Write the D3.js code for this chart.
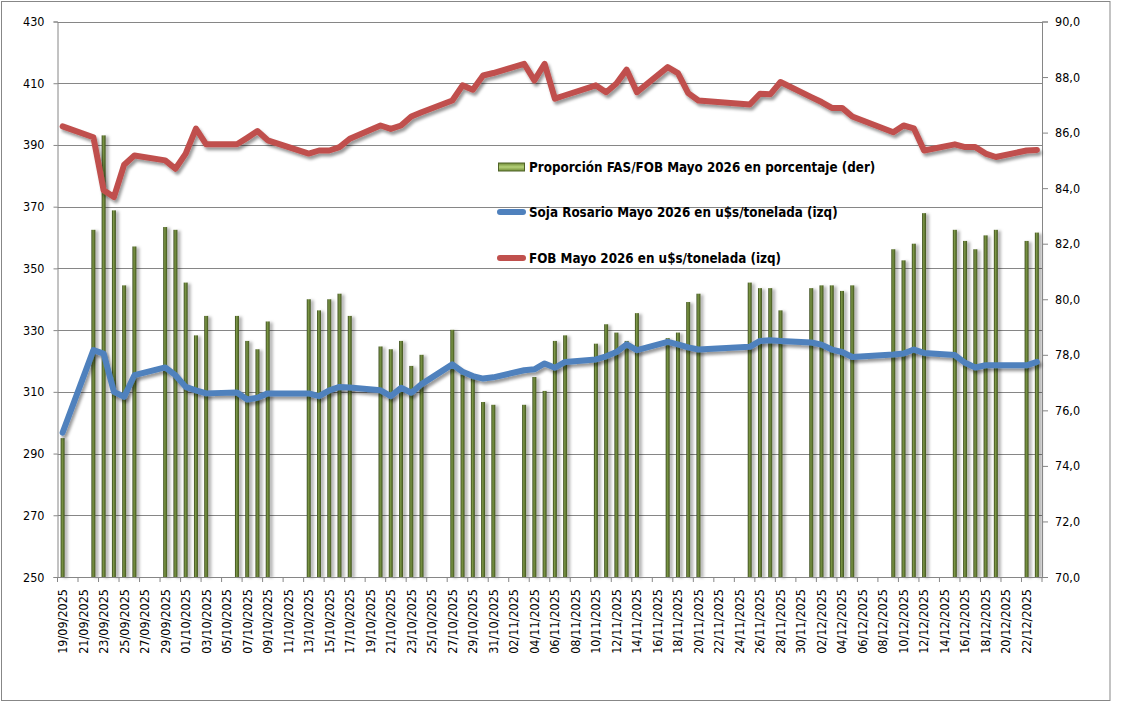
<!DOCTYPE html>
<html>
<head>
<meta charset="utf-8">
<script src="https://cdn.jsdelivr.net/npm/d3@7"></script>
<style>
  html, body { margin: 0; padding: 0; background: #fff; }
  svg { display: block; }
</style>
</head>
<body>
<div id="chart"></div>
<script>
// Fechas hábiles con dato (las demás fechas del eje quedan vacías)
const fechas = [
  "19/09/2025", "22/09/2025", "23/09/2025", "24/09/2025", "25/09/2025", "26/09/2025", "29/09/2025", "30/09/2025",
  "01/10/2025", "02/10/2025", "03/10/2025", "06/10/2025", "07/10/2025", "08/10/2025", "09/10/2025",
  "13/10/2025", "14/10/2025", "15/10/2025", "16/10/2025", "17/10/2025",
  "20/10/2025", "21/10/2025", "22/10/2025", "23/10/2025", "24/10/2025",
  "27/10/2025", "28/10/2025", "29/10/2025", "30/10/2025", "31/10/2025",
  "03/11/2025", "04/11/2025", "05/11/2025", "06/11/2025", "07/11/2025",
  "10/11/2025", "11/11/2025", "12/11/2025", "13/11/2025", "14/11/2025",
  "17/11/2025", "18/11/2025", "19/11/2025", "20/11/2025",
  "25/11/2025", "26/11/2025", "27/11/2025", "28/11/2025",
  "01/12/2025", "02/12/2025", "03/12/2025", "04/12/2025", "05/12/2025",
  "09/12/2025", "10/12/2025", "11/12/2025", "12/12/2025",
  "15/12/2025", "16/12/2025", "17/12/2025", "18/12/2025", "19/12/2025",
  "22/12/2025", "23/12/2025"
];

// FOB Mayo 2026 (u$s/t, eje izquierdo)
const fob = [
  396.0, 392.5, 375.3, 373.1, 383.6, 386.6, 385.0, 382.3,
  387.2, 395.3, 390.2, 390.2, 392.3, 394.5, 391.5,
  387.2, 388.2, 388.2, 389.3, 392.0,
  396.3, 395.2, 396.3, 399.2, 400.6,
  404.4, 409.3, 407.9, 412.5, 413.3,
  416.3, 410.9, 416.3, 405.0, 406.1,
  409.3, 407.1, 409.9, 414.4, 407.1,
  415.2, 413.3, 406.8, 404.4,
  403.1, 406.6, 406.4, 410.4,
  405.5, 403.9, 402.0, 402.0, 399.2,
  394.1, 396.3, 395.4, 388.2,
  390.2, 389.3, 389.3, 387.2, 386.1,
  388.2, 388.4
];

// Soja Rosario Mayo 2026 (u$s/t, eje izquierdo)
const soja = [
  296.8, 323.5, 322.4, 310.0, 308.4, 315.4, 317.9, 315.4,
  311.6, 310.5, 309.5, 309.8, 307.5, 308.1, 309.5,
  309.5, 308.6, 310.5, 311.6, 311.4,
  310.5, 308.6, 311.3, 309.7, 312.5,
  318.9, 316.5, 315.1, 314.3, 314.7,
  317.0, 317.3, 319.2, 317.8, 319.7,
  320.5, 321.5, 322.9, 325.4, 323.5,
  326.2, 325.4, 324.4, 323.7,
  324.6, 326.5, 326.7, 326.5,
  326.0, 325.3, 323.7, 322.9, 321.3,
  322.1, 322.4, 323.7, 322.6,
  321.9, 319.4, 317.9, 318.6, 318.6,
  318.6, 319.7
];

// Proporción FAS/FOB en porcentaje (eje derecho)
const proporcion = [
  75.0, 82.5, 85.9, 83.2, 80.5, 81.9, 82.6, 82.5,
  80.6, 78.7, 79.4, 79.4, 78.5, 78.2, 79.2,
  80.0, 79.6, 80.0, 80.2, 79.4,
  78.3, 78.2, 78.5, 77.6, 78.0,
  78.9, 77.3, 77.2, 76.3, 76.2,
  76.2, 77.2, 76.7, 78.5, 78.7,
  78.4, 79.1, 78.8, 78.5, 79.5,
  78.6, 78.8, 79.9, 80.2,
  80.6, 80.4, 80.4, 79.6,
  80.4, 80.5, 80.5, 80.3, 80.5,
  81.8, 81.4, 82.0, 83.1,
  82.5, 82.1, 81.8, 82.3, 82.5,
  82.1, 82.4
];

// Marcas de los ejes verticales
const ticksIzq = [250, 270, 290, 310, 330, 350, 370, 390, 410, 430];
const ticksDer = [70, 72, 74, 76, 78, 80, 82, 84, 86, 88, 90];

// Leyenda
const leyenda = [
  "Proporción FAS/FOB Mayo 2026 en porcentaje (der)",
  "Soja Rosario Mayo 2026 en u$s/tonelada (izq)",
  "FOB Mayo 2026 en u$s/tonelada (izq)"
];

const width = 1121;
const height = 704;
const margin = { top: 21.5, right: 79, bottom: 127, left: 57.5 };
const fontEjes = "Tahoma, 'DejaVu Sans Condensed', 'DejaVu Sans', sans-serif";

const parse = d3.timeParse("%d/%m/%Y");
const fmt = d3.timeFormat("%d/%m/%Y");
const coma = d3.formatLocale({ decimal: ",", thousands: ".", grouping: [3], currency: ["", ""] }).format(".1f");

// Todos los días del período (eje de fechas continuo)
const primero = parse(fechas[0]);
const ultimo = parse(fechas[fechas.length - 1]);
const dias = d3.timeDay.range(primero, d3.timeDay.offset(ultimo, 1)).map(fmt);

const svg = d3.select("#chart")
  .append("svg")
  .attr("width", width)
  .attr("height", height);

const defs = svg.append("defs");

// Sombra de las líneas
const sombra = defs.append("filter").attr("id", "sombra")
  .attr("x", "-10%").attr("y", "-10%").attr("width", "120%").attr("height", "130%");
sombra.append("feDropShadow")
  .attr("dx", 2).attr("dy", 3).attr("stdDeviation", 1.6)
  .attr("flood-color", "#000").attr("flood-opacity", 0.4);

// Sombra de las barras
const sombraBarra = defs.append("filter").attr("id", "sombraBarra")
  .attr("x", "-50%").attr("y", "-5%").attr("width", "250%").attr("height", "110%");
sombraBarra.append("feDropShadow")
  .attr("dx", 3).attr("dy", 1).attr("stdDeviation", 1.5)
  .attr("flood-color", "#000").attr("flood-opacity", 0.3);

// Degradé verde de las barras
const grad = defs.append("linearGradient").attr("id", "verde")
  .attr("x1", "0%").attr("x2", "100%").attr("y1", "0%").attr("y2", "0%");
grad.append("stop").attr("offset", "0%").attr("stop-color", "#36461a");
grad.append("stop").attr("offset", "40%").attr("stop-color", "#7c9746");
grad.append("stop").attr("offset", "100%").attr("stop-color", "#3f511c");

const gradLey = defs.append("linearGradient").attr("id", "verdeLey")
  .attr("x1", "0%").attr("x2", "0%").attr("y1", "0%").attr("y2", "100%");
gradLey.append("stop").attr("offset", "0%").attr("stop-color", "#6f8a36");
gradLey.append("stop").attr("offset", "50%").attr("stop-color", "#b6d27a");
gradLey.append("stop").attr("offset", "100%").attr("stop-color", "#6f8a36");

// Fondo y borde exterior
svg.append("rect")
  .attr("x", 1.5).attr("y", 1.5)
  .attr("width", 1108.5).attr("height", 699)
  .attr("fill", "#fff")
  .attr("stroke", "#878787");

// Escalas
const x = d3.scaleBand()
  .domain(dias)
  .range([margin.left, width - margin.right])
  .padding(0);

const yIzq = d3.scaleLinear()
  .domain([250, 430])
  .range([height - margin.bottom, margin.top]);

const yDer = d3.scaleLinear()
  .domain([70, 90])
  .range([height - margin.bottom, margin.top]);

const cx = d => x(d) + x.bandwidth() / 2;

// Líneas de grilla horizontales
svg.append("g")
  .selectAll("line")
  .data(ticksIzq)
  .enter()
  .append("line")
  .attr("x1", margin.left)
  .attr("x2", width - margin.right)
  .attr("y1", d => Math.round(yIzq(d)) + 0.5)
  .attr("y2", d => Math.round(yIzq(d)) + 0.5)
  .attr("stroke", "#868686")
  .attr("stroke-width", 1);

// Barras de la proporción (eje derecho)
const anchoBarra = 4;
svg.append("g")
  .attr("filter", "url(#sombraBarra)")
  .selectAll("rect")
  .data(fechas)
  .enter()
  .append("rect")
  .attr("x", d => cx(d) - anchoBarra / 2)
  .attr("y", (d, i) => yDer(proporcion[i]))
  .attr("width", anchoBarra)
  .attr("height", (d, i) => yDer(70) - yDer(proporcion[i]))
  .attr("fill", "url(#verde)");

// Eje izquierdo
const ejeIzq = svg.append("g")
  .attr("transform", `translate(${margin.left},0)`)
  .call(d3.axisLeft(yIzq).tickValues(ticksIzq).tickSize(4).tickPadding(9).tickFormat(d3.format("d")));

// Eje derecho
const ejeDer = svg.append("g")
  .attr("transform", `translate(${width - margin.right},0)`)
  .call(d3.axisRight(yDer).tickValues(ticksDer).tickSize(6).tickPadding(7).tickFormat(coma));

[ejeIzq, ejeDer].forEach(eje => {
  eje.select(".domain").attr("stroke", "#868686");
  eje.selectAll(".tick line").attr("stroke", "#868686");
  eje.selectAll("text")
    .attr("fill", "#000")
    .attr("font-family", fontEjes)
    .attr("font-size", "12.5px");
});

// Eje inferior: etiquetas cada dos días, rotadas
const etiquetas = dias.filter((d, i) => i % 2 === 0);
const ejeX = svg.append("g")
  .attr("transform", `translate(0,${height - margin.bottom})`)
  .call(d3.axisBottom(x).tickValues(etiquetas).tickSize(0));

ejeX.select(".domain").attr("stroke", "#868686");
ejeX.selectAll("text")
  .attr("transform", "rotate(-90)")
  .attr("x", -12)
  .attr("y", 0)
  .attr("dy", "0.35em")
  .attr("text-anchor", "end")
  .attr("fill", "#000")
  .attr("font-family", fontEjes)
  .attr("font-size", "12.5px");

// Marcas entre categorías, cada dos días
const bordes = d3.range(0, dias.length + 1, 2);
ejeX.append("g")
  .selectAll("line")
  .data(bordes)
  .enter()
  .append("line")
  .attr("x1", i => margin.left + i * x.step())
  .attr("x2", i => margin.left + i * x.step())
  .attr("y1", 0)
  .attr("y2", 5)
  .attr("stroke", "#868686");

// Líneas de precios (eje izquierdo)
const linea = serie => d3.line()
  .x(d => cx(d))
  .y((d, i) => yIzq(serie[i]))(fechas);

svg.append("path")
  .attr("d", linea(soja))
  .attr("fill", "none")
  .attr("stroke", "#4f81bd")
  .attr("stroke-width", 6)
  .attr("stroke-linejoin", "round")
  .attr("stroke-linecap", "round")
  .attr("filter", "url(#sombra)");

svg.append("path")
  .attr("d", linea(fob))
  .attr("fill", "none")
  .attr("stroke", "#c0504d")
  .attr("stroke-width", 6)
  .attr("stroke-linejoin", "round")
  .attr("stroke-linecap", "round")
  .attr("filter", "url(#sombra)");

// Leyenda dentro del área del gráfico
const ley = svg.append("g").attr("transform", "translate(497,0)");
const filasLey = [167, 212, 258];

ley.append("rect")
  .attr("x", 1.5).attr("y", filasLey[0] - 4)
  .attr("width", 26).attr("height", 8)
  .attr("fill", "url(#verdeLey)")
  .attr("stroke", "#4f6228")
  .attr("stroke-width", 1);

ley.append("line")
  .attr("x1", 3).attr("x2", 26)
  .attr("y1", filasLey[1]).attr("y2", filasLey[1])
  .attr("stroke", "#4f81bd").attr("stroke-width", 6).attr("stroke-linecap", "round");

ley.append("line")
  .attr("x1", 3).attr("x2", 26)
  .attr("y1", filasLey[2]).attr("y2", filasLey[2])
  .attr("stroke", "#c0504d").attr("stroke-width", 6).attr("stroke-linecap", "round");

ley.selectAll("text")
  .data(leyenda)
  .enter()
  .append("text")
  .attr("x", 32)
  .attr("y", (d, i) => filasLey[i] + 5)
  .attr("font-family", fontEjes)
  .attr("font-weight", "bold")
  .attr("font-size", "13.3px")
  .attr("fill", "#000")
  .text(d => d);
</script>
</body>
</html>
